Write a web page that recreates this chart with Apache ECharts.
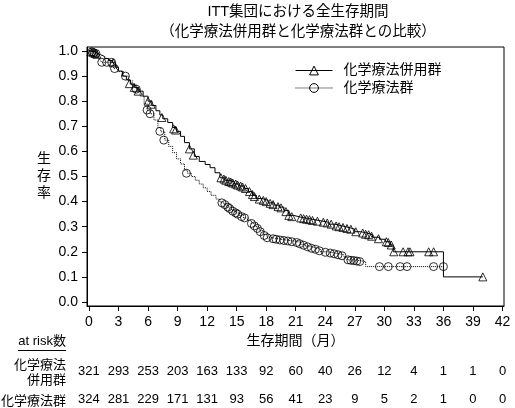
<!DOCTYPE html>
<html lang="ja">
<head>
<meta charset="UTF-8">
<title>ITT集団における全生存期間</title>
<style>
  html, body { margin: 0; padding: 0; background: #fff; }
  #chartContainer { width: 515px; height: 408px; }
</style>
<script src="https://cdn.jsdelivr.net/npm/echarts@6.0.0/dist/echarts.min.js"></script>
</head>
<body>
<div id="chartContainer"></div>
<script>
const FONT = "'Liberation Sans', 'Noto Sans CJK JP', sans-serif";

// axis ticks
const xTicks = [0, 3, 6, 9, 12, 15, 18, 21, 24, 27, 30, 33, 36, 39, 42];
const yTicks = [0, 0.1, 0.2, 0.3, 0.4, 0.5, 0.6, 0.7, 0.8, 0.9, 1.0];

// number at risk under each x tick
const riskCombo = [321, 293, 253, 203, 163, 133, 92, 60, 40, 26, 12, 4, 1, 1, 0];
const riskChemo = [324, 281, 229, 171, 131, 93, 56, 41, 23, 9, 5, 2, 1, 0, 0];

// Kaplan-Meier steps [month, survival]
const comboCurve = [
  [0, 1.0], [0.3, 0.997], [0.6, 0.99], [0.9, 0.985], [1.2, 0.978], [1.6, 0.97],
  [2.0, 0.962], [2.4, 0.953], [2.7, 0.935], [3.0, 0.92], [3.4, 0.9], [3.8, 0.885],
  [4.2, 0.868], [4.6, 0.855], [5.0, 0.84], [5.5, 0.82], [6.0, 0.8], [6.4, 0.783],
  [6.8, 0.762], [7.2, 0.745], [7.5, 0.73], [8.0, 0.715], [8.5, 0.695], [8.9, 0.68],
  [9.3, 0.66], [9.7, 0.635], [10.2, 0.61], [10.7, 0.58], [11.2, 0.56], [11.8, 0.548],
  [12.3, 0.535], [12.8, 0.515], [13.3, 0.495], [13.8, 0.485], [14.3, 0.478], [14.8, 0.47],
  [15.3, 0.462], [15.8, 0.452], [16.2, 0.44], [16.6, 0.425], [17.0, 0.412], [17.6, 0.405],
  [18.2, 0.395], [18.8, 0.386], [19.3, 0.378], [19.8, 0.365], [20.3, 0.345], [20.8, 0.338],
  [21.5, 0.333], [22.2, 0.328], [22.9, 0.323], [23.6, 0.318], [24.3, 0.31], [25.0, 0.303],
  [25.7, 0.297], [26.4, 0.29], [27.0, 0.28], [27.6, 0.275], [28.2, 0.268], [28.8, 0.258],
  [29.5, 0.25], [30.1, 0.24], [30.6, 0.227], [30.9, 0.2], [36.0, 0.1], [40.0, 0.1]
];
const chemoCurve = [
  [0, 1.0], [0.3, 0.997], [0.6, 0.99], [0.9, 0.98], [1.1, 0.965], [1.3, 0.955],
  [2.5, 0.93], [2.9, 0.918], [3.5, 0.9], [4.0, 0.882], [4.4, 0.865], [4.8, 0.848],
  [5.2, 0.82], [5.6, 0.79], [5.9, 0.765], [6.2, 0.75], [6.6, 0.725], [7.0, 0.695],
  [7.3, 0.678], [7.7, 0.645], [8.1, 0.62], [8.5, 0.595], [8.9, 0.57], [9.3, 0.55],
  [9.7, 0.525], [10.0, 0.513], [10.4, 0.5], [10.8, 0.485], [11.2, 0.47], [11.6, 0.455],
  [12.0, 0.44], [12.4, 0.425], [12.9, 0.41], [13.3, 0.398], [13.7, 0.39], [14.1, 0.378],
  [14.5, 0.365], [14.9, 0.355], [15.3, 0.345], [15.7, 0.335], [16.1, 0.325], [16.5, 0.313],
  [16.9, 0.3], [17.3, 0.285], [17.7, 0.268], [18.1, 0.256], [18.6, 0.252], [19.2, 0.248],
  [19.8, 0.245], [20.4, 0.242], [21.0, 0.238], [21.5, 0.23], [22.0, 0.222], [22.5, 0.215],
  [23.0, 0.21], [23.5, 0.2], [24.2, 0.196], [24.8, 0.192], [25.4, 0.188], [25.9, 0.18],
  [26.2, 0.168], [26.8, 0.165], [27.5, 0.161], [28.1, 0.141], [36.0, 0.141]
];

// censored observations
const comboCensor = [
  [0.2, 0.997], [0.4, 0.995], [0.6, 0.99], [0.8, 0.987], [2.45, 0.953],
  [4.1, 0.87], [4.6, 0.855], [5.0, 0.84], [6.0, 0.8], [6.3, 0.788], [7.4, 0.735],
  [8.6, 0.69], [8.8, 0.685], [10.2, 0.61], [10.6, 0.585],
  [13.4, 0.495], [13.7, 0.49], [13.9, 0.485], [14.2, 0.48], [14.4, 0.478], [14.6, 0.474],
  [14.9, 0.47], [15.1, 0.466], [15.4, 0.462], [15.6, 0.458], [15.9, 0.452],
  [16.3, 0.44], [16.6, 0.428], [16.8, 0.42], [17.3, 0.41], [17.7, 0.405], [18.0, 0.4],
  [18.4, 0.393], [18.7, 0.388], [19.2, 0.38], [19.5, 0.375], [20.0, 0.36], [20.3, 0.345],
  [20.6, 0.34], [21.5, 0.335], [21.8, 0.332], [22.1, 0.33], [22.4, 0.328], [22.7, 0.325],
  [23.2, 0.322], [23.8, 0.318], [24.2, 0.315], [24.6, 0.31], [25.1, 0.303], [25.4, 0.3],
  [25.8, 0.297], [26.2, 0.293], [26.6, 0.29], [27.1, 0.28], [27.8, 0.275], [28.1, 0.27],
  [28.4, 0.268], [28.7, 0.262], [29.4, 0.252], [30.2, 0.24], [30.4, 0.237], [30.7, 0.227],
  [30.95, 0.2], [31.9, 0.2], [32.4, 0.2], [32.6, 0.2], [34.5, 0.2], [35.0, 0.2], [40.0, 0.1]
];
const chemoCensor = [
  [0.3, 0.997], [0.5, 0.993], [0.7, 0.99], [1.3, 0.955], [1.8, 0.955], [2.3, 0.955],
  [2.6, 0.93], [3.7, 0.9], [4.8, 0.848], [5.9, 0.765], [6.2, 0.75], [7.2, 0.68],
  [7.6, 0.645], [9.9, 0.513],
  [13.5, 0.395], [13.8, 0.388], [14.1, 0.378], [14.3, 0.372], [14.6, 0.362], [14.9, 0.355],
  [15.1, 0.35], [15.5, 0.34], [15.8, 0.335], [16.5, 0.313], [16.8, 0.303], [17.1, 0.293],
  [17.4, 0.28], [17.8, 0.265], [18.1, 0.256], [18.7, 0.252], [19.0, 0.25], [19.4, 0.247],
  [19.8, 0.245], [20.2, 0.243], [20.6, 0.24], [21.1, 0.237], [21.4, 0.232], [21.8, 0.226],
  [22.2, 0.22], [22.6, 0.214], [23.0, 0.21], [23.4, 0.204], [24.0, 0.198], [24.5, 0.195],
  [24.9, 0.192], [25.3, 0.188], [25.7, 0.184], [26.3, 0.168], [26.6, 0.166], [26.9, 0.165],
  [27.2, 0.163], [27.5, 0.161], [29.5, 0.141], [30.4, 0.141], [31.6, 0.141], [32.3, 0.141],
  [35.0, 0.141], [36.0, 0.141]
];

const chartDom = document.getElementById('chartContainer');
const myChart = echarts.init(chartDom);

const txt = { color: '#000', fontFamily: FONT };
// hollow marker, 1px outline
const hollow = { color: 'rgba(0,0,0,0)', borderColor: '#000', borderWidth: 1 };

// hidden x axis that only prints one at-risk row under the ticks
function riskAxis(values, margin) {
  return {
    type: 'value', min: -0.2, max: 42.15, position: 'bottom',
    axisLine: { show: false, onZero: false },
    axisTick: { show: false },
    splitLine: { show: false },
    axisLabel: {
      customValues: xTicks, margin: margin, fontSize: 13, ...txt,
      formatter: v => String(values[xTicks.indexOf(v)])
    }
  };
}

const option = {
  animation: false,
  backgroundColor: '#fff',
  title: {
    text: 'ITT集団における全生存期間\n（化学療法併用群と化学療法群との比較）',
    left: 298, top: 2, textAlign: 'center', padding: 0,
    textStyle: { fontSize: 14.5, fontWeight: 'normal', lineHeight: 20, ...txt }
  },
  legend: {
    data: ['化学療法併用群', '化学療法群'],
    orient: 'vertical', left: 295, top: 63.5, padding: 0,
    itemWidth: 37, itemHeight: 11, itemGap: 3.5,
    selectedMode: false,
    itemStyle: { borderWidth: 1 },
    lineStyle: { width: 1, color: '#000' },
    textStyle: { fontSize: 14, padding: [0, 0, 0, 6], ...txt }
  },
  grid: {
    left: 87, right: 11, top: 47, bottom: 102,
    show: true, borderColor: '#000', borderWidth: 1
  },
  xAxis: [
    {
      type: 'value', min: -0.2, max: 42.15, position: 'bottom',
      axisLine: { onZero: false, lineStyle: { color: '#000', width: 1 } },
      axisTick: { customValues: xTicks, length: 5, lineStyle: { color: '#000' } },
      axisLabel: { customValues: xTicks, margin: 9, fontSize: 14, ...txt },
      splitLine: { show: false },
      name: '生存期間（月）', nameLocation: 'middle', nameGap: 28,
      nameTextStyle: { fontSize: 14, ...txt }
    },
    riskAxis(riskCombo, 59),
    riskAxis(riskChemo, 87)
  ],
  yAxis: {
    type: 'value', min: -0.016, max: 1.016,
    axisLine: { onZero: false, lineStyle: { color: '#000', width: 1 } },
    axisTick: { customValues: yTicks, length: 5, lineStyle: { color: '#000' } },
    axisLabel: { customValues: yTicks, margin: 9, fontSize: 14, ...txt, formatter: v => v.toFixed(1) },
    splitLine: { show: false },
    name: '生\n存\n率', nameLocation: 'middle', nameRotate: 0, nameGap: 36,
    nameTextStyle: { fontSize: 14, lineHeight: 17, ...txt }
  },
  graphic: [
    { type: 'text', x: 66, y: 341, style: { text: 'at risk数', align: 'right', verticalAlign: 'middle', font: "13px 'Liberation Sans', 'Noto Sans CJK JP', sans-serif", fill: '#000' } },
    { type: 'line', shape: { x1: 18, y1: 350.5, x2: 66, y2: 350.5 }, style: { stroke: '#000', lineWidth: 1 } },
    { type: 'text', x: 66, y: 372, style: { text: '化学療法\n併用群', align: 'right', verticalAlign: 'middle', lineHeight: 15, font: "13px 'Noto Sans CJK JP', sans-serif", fill: '#000' } },
    { type: 'text', x: 66, y: 400, style: { text: '化学療法群', align: 'right', verticalAlign: 'middle', font: "13px 'Noto Sans CJK JP', sans-serif", fill: '#000' } }
  ],
  series: [
    {
      name: '化学療法併用群', type: 'line', step: 'end', data: comboCurve,
      symbol: 'triangle', symbolSize: 9, showSymbol: false, silent: true,
      lineStyle: { color: '#000', width: 1, type: 'solid' },
      itemStyle: hollow
    },
    {
      name: '化学療法群', type: 'line', step: 'end', data: chemoCurve,
      symbol: 'circle', symbolSize: 9, showSymbol: false, silent: true,
      lineStyle: { color: '#000', width: 1, type: 'dotted' },
      itemStyle: hollow
    },
    {
      name: 'combo censored', type: 'scatter', data: comboCensor,
      symbol: 'triangle', symbolSize: 8, silent: true,
      itemStyle: hollow
    },
    {
      name: 'chemo censored', type: 'scatter', data: chemoCensor,
      symbol: 'circle', symbolSize: 8, silent: true,
      itemStyle: hollow
    }
  ]
};

myChart.setOption(option);
</script>
</body>
</html>
